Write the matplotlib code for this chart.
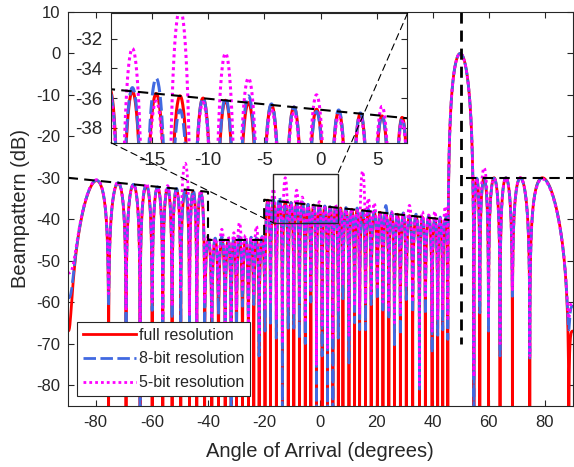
import numpy as np
import matplotlib
matplotlib.use("Agg")
import matplotlib.pyplot as plt
from matplotlib.patches import Rectangle, ConnectionPatch

plt.rcParams['font.family'] = ['Liberation Sans', 'DejaVu Sans']
plt.rcParams['axes.unicode_minus'] = False

# ---------------- data ----------------
# angles (deg) of the pattern nulls, left to right (first/last are the axis edges)
null_angles = [-90.0, -75.4, -69.2, -64.2, -59.9, -56.1, -52.8, -49.7, -46.6, -44.0,
               -41.2, -38.64, -36.27, -33.9, -31.77, -29.87, -27.73, -25.6, -23.7, -21.8,
               -19.7, -17.74, -15.67, -13.52, -11.44, -9.44, -7.45, -5.37, -3.37, -1.37,
               0.63, 2.56, 4.48, 6.40, 8.05, 10.2, 12.2, 14.0, 16.1, 18.1,
               20.3, 22.3, 24.4, 26.4, 28.5, 30.6, 32.9, 35.3, 37.4, 39.8,
               41.8, 43.6, 45.4, 54.7, 56.8, 59.9, 64.0, 68.4, 74.6, 88.5, 90.0]

# lobe peak levels (dB), one per lobe between consecutive nulls
peak_full = [-30.7, -31.3, -31.7, -32.0, -32.3, -32.6, -32.85, -33.1, -33.3, -33.5,
             -45.0, -45.0, -45.0, -45.0, -45.0, -45.0, -45.0, -45.0, -45.0, -44.5,
             -35.4, -35.55, -35.7, -35.85, -36.0, -36.15, -36.3, -36.45, -36.6, -36.75,
             -36.9, -37.05, -37.2, -37.3, -37.45, -37.6, -37.75, -37.9, -38.05, -38.2,
             -38.35, -38.5, -38.65, -38.8, -39.0, -39.15, -39.3, -39.5, -39.65, -39.8,
             -39.95, -40.1, 0.0, -30.3, -30.0, -30.0, -30.0, -30.0, -30.0, -67.0]
peak_8bit = [-30.6, -31.2, -31.6, -31.6, -32.2, -32.5, -32.6, -33.0, -33.0, -33.6,
             -44.8, -44.6, -44.2, -45.2, -44.5, -44.3, -44.9, -44.4, -44.6, -44.2,
             -35.6, -35.3, -34.67, -36.8, -36.0, -36.0, -35.85, -36.4, -36.6, -36.9,
             -36.8, -37.0, -37.2, -37.4, -37.2, -37.9, -37.3, -38.2, -37.6, -38.0,
             -38.6, -36.7, -38.4, -38.9, -38.5, -39.4, -38.8, -39.7, -39.2, -39.9,
             -39.5, -39.0, 0.0, -30.1, -30.2, -30.1, -30.0, -30.1, -30.1, -61.0]
peak_5bit = [-30.5, -31.0, -31.8, -31.4, -32.5, -31.9, -33.5, -26.5, -34.5, -33.0,
             -44.0, -44.8, -42.5, -44.2, -43.3, -40.9, -44.0, -44.5, -41.7, -44.0,
             -36.0, -32.67, -36.2, -30.0, -36.3, -33.0, -34.67, -36.8, -37.0, -35.78,
             -37.2, -37.3, -36.56, -37.6, -37.8, -37.4, -37.9, -28.4, -35.0, -36.1,
             -38.5, -38.7, -38.2, -39.1, -38.6, -36.7, -39.5, -38.2, -39.0, -38.1,
             -39.9, -36.9, 0.0, -30.2, -27.6, -30.2, -30.1, -30.0, -30.3, -60.0]

# depth (dB) reached at each null
null_full = [-67.0, -120, -120, -120, -120, -120, -120, -120, -120, -120,
             -120, -120, -120, -120, -120, -120, -120, -120, -120, -120,
             -120, -120, -120, -120, -120, -120, -120, -120, -120, -120,
             -120, -120, -120, -120, -120, -120, -120, -120, -120, -120,
             -120, -120, -120, -120, -120, -120, -120, -120, -120, -120,
             -120, -120, -120, -120, -120, -120, -120, -120, -120, -120, -67.0]
null_8bit = [-59.0, -61, -66, -120, -62, -68, -64, -70, -66, -72,
             -66, -70, -63, -74, -120, -68, -61, -72, -60.6, -73,
             -67, -65.1, -68.7, -120, -66.3, -66.3, -68.7, -70.0, -60.0, -120,
             -73, -120, -120, -68.7, -59.2, -74.7, -65.0, -66.7, -66.7, -60.6,
             -59.4, -62.6, -64.2, -70.3, -68.0, -59.4, -62.6, -81.0, -63.0, -72.3,
             -68.0, -66.7, -69.0, -90.0, -62.6, -67.0, -73.0, -58.6, -73.5, -66.7, -61.0]
null_5bit = [-53.0, -58, -62, -66, -60, -64, -61, -57, -63, -65,
             -60, -64, -58, -67, -72, -62, -57, -66, -58, -68,
             -62, -60, -64, -70, -61, -63, -59, -65, -57, -75,
             -66, -71, -69, -62, -56, -68, -61, -63, -60, -58,
             -57, -60, -62, -65, -63, -56, -60, -80, -59, -67,
             -64, -62, -64, -78, -60, -64, -70, -57, -73, -64, -60.0]

series_labels = ['full resolution', '8-bit resolution', '5-bit resolution']

# sidelobe constraint (black dashed) and look direction
mask_x = [-90, -40, -40, -20, -20, 46]
mask_y = [-30, -33.4, -45, -45, -35.3, -40.2]
mask_right_x = [52, 90]
mask_right_y = [-30, -30]
look_x = [50, 50]
look_y = [10, -70]

# zoom box (main axes) and inset limits
box_x = [-16.9, 6.2]
box_y = [-40.8, -29.05]
inset_xlim = [-18.6, 7.7]
inset_ylim = [-39.0, -30.3]

MAIN_LOBE = 52        # index of main lobe among lobes
MAIN_SHARP = 1.6      # sharper shape for main lobe


def build_curve(nulls, peaks, depths, npts=140):
    th_all, db_all = [], []
    nl = len(peaks)
    for i in range(nl):
        ua = np.sin(np.radians(nulls[i]))
        ub = np.sin(np.radians(nulls[i + 1]))
        s = np.linspace(0, 1, npts)
        t = (1 - np.cos(np.pi * s)) / 2
        pk = 10 ** (peaks[i] / 10)
        da = 10 ** (depths[i] / 10)
        db = 10 ** (depths[i + 1] / 10)
        if i == nl - 1:  # half lobe reaching the axis edge
            t = t * 0.5
            u = ua + t * 2 * (ub - ua)
            p = pk * np.sin(np.pi * t) ** 2 + da * np.cos(np.pi * t) ** 2
        else:
            u = ua + t * (ub - ua)
            ex = MAIN_SHARP if i == MAIN_LOBE else 1.0
            p = (pk * np.abs(np.sin(np.pi * t)) ** (2 * ex)
                 + da * np.cos(np.pi * t / 2) ** 2 + db * np.sin(np.pi * t / 2) ** 2)
        th = np.degrees(np.arcsin(np.clip(u, -1, 1)))
        if i > 0:
            th, p = th[1:], p[1:]
        th_all.append(th)
        db_all.append(10 * np.log10(p))
    return np.concatenate(th_all), np.concatenate(db_all)


curves = [build_curve(null_angles, peak_full, null_full),
          build_curve(null_angles, peak_8bit, null_8bit),
          build_curve(null_angles, peak_5bit, null_5bit)]
styles = [dict(color='#FF0000', ls='-'),
          dict(color='#4169E1', ls=(0, (4.5, 1.6))),
          dict(color='#FF00FF', ls=(0, (1, 1.1)))]

txt = '#262626'
fig = plt.figure(figsize=(5.74, 4.67), dpi=100)
ax = fig.add_axes([0.1178, 0.1313, 0.8805, 0.843])

for (x, y), st, lab in zip(curves, styles, series_labels):
    ax.plot(x, y, lw=2.0, label=lab, **st)

ax.plot(mask_x, mask_y, color='k', ls=(0, (5, 3)), lw=1.5)
ax.plot(mask_right_x, mask_right_y, color='k', ls=(0, (5, 3)), lw=1.5)
ax.plot(look_x, look_y, color='k', ls=(0, (4, 2.5)), lw=2.0)
ax.add_patch(Rectangle((box_x[0], box_y[0]), box_x[1] - box_x[0], box_y[1] - box_y[0],
                       fill=False, ec='#262626', lw=1.0, zorder=5))

ax.set_xlim(-90, 90)
ax.set_ylim(-85, 10)
ax.set_xticks([-80, -60, -40, -20, 0, 20, 40, 60, 80])
ax.set_yticks([-80, -70, -60, -50, -40, -30, -20, -10, 0, 10])
ax.tick_params(direction='in', top=True, right=True, length=4, width=0.8,
               labelsize=12, colors=txt)
ax.tick_params(axis='x', pad=7)
ax.tick_params(axis='y', pad=5)
for sp in ax.spines.values():
    sp.set_color(txt)
    sp.set_linewidth(0.8)
ax.set_xlabel('Angle of Arrival (degrees)', fontsize=14.5, color=txt, labelpad=8)
ax.set_ylabel('Beampattern (dB)', fontsize=14.5, color=txt, labelpad=5)

leg = ax.legend(loc='lower left', bbox_to_anchor=(0.019, 0.025), borderaxespad=0,
                fontsize=11.5, handlelength=3.3, handletextpad=0.2,
                labelspacing=0.55, borderpad=0.35, fancybox=False, framealpha=1,
                edgecolor='#262626')
leg.get_frame().set_linewidth(0.8)
for t in leg.get_texts():
    t.set_color(txt)

# inset
axin = fig.add_axes([0.1934, 0.6944, 0.5165, 0.2771])
for (x, y), st in zip(curves, styles):
    axin.plot(x, y, lw=2.2, **st)
axin.plot(mask_x, mask_y, color='k', ls=(0, (5, 3)), lw=1.5)
axin.set_xlim(*inset_xlim)
axin.set_ylim(*inset_ylim)
axin.set_xticks([-15, -10, -5, 0, 5])
axin.set_yticks([-38, -36, -34, -32])
axin.tick_params(direction='in', top=True, right=True, length=4, width=0.8,
                 labelsize=13.5, colors=txt)
axin.tick_params(axis='x', pad=7)
axin.tick_params(axis='y', pad=6)
for sp in axin.spines.values():
    sp.set_color(txt)
    sp.set_linewidth(0.8)

for xa, ya, xb, yb in [(inset_xlim[0], inset_ylim[0], box_x[0], box_y[0]),
                       (inset_xlim[1], inset_ylim[1], box_x[1], box_y[1])]:
    con = ConnectionPatch(xyA=(xa, ya), coordsA=axin.transData,
                          xyB=(xb, yb), coordsB=ax.transData,
                          color='k', ls=(0, (6, 4)), lw=0.8)
    fig.add_artist(con)

fig.savefig('out.png', dpi=100)
